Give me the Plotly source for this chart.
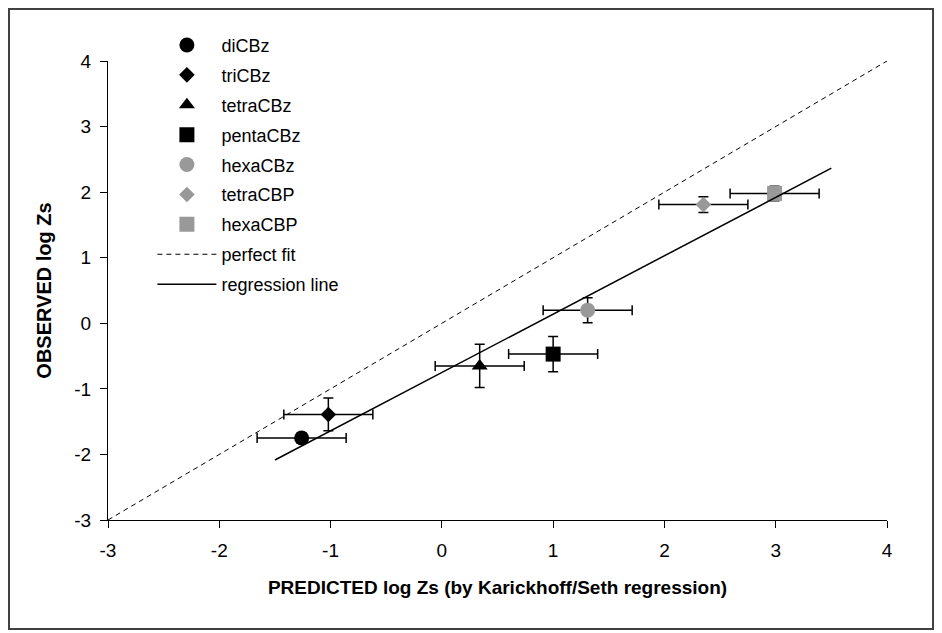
import plotly.graph_objects as go

# ---- data ----
names = ["diCBz", "triCBz", "tetraCBz", "pentaCBz", "hexaCBz", "tetraCBP", "hexaCBP"]
pred = [-1.26, -1.02, 0.34, 1.00, 1.31, 2.35, 2.99]
obs = [-1.75, -1.39, -0.65, -0.47, 0.20, 1.81, 1.98]
pred_err = [0.40, 0.40, 0.40, 0.40, 0.40, 0.40, 0.40]
obs_err = [0.08, 0.25, 0.33, 0.27, 0.19, 0.12, 0.11]
symbols = ["circle", "diamond", "triangle-up", "square", "circle", "diamond", "square"]
sizes = [15, 12, 14, 15, 15, 12, 15]
colors = ["black", "black", "black", "black", "#999999", "#999999", "#999999"]

fit_x = [-3, 4]
fit_y = [-3, 4]
reg_x = [-1.5, 3.5]
reg_y = [-2.085, 2.365]

ticks = [-3, -2, -1, 0, 1, 2, 3, 4]

FONT = "Liberation Sans, Arial, sans-serif"

fig = go.Figure()

for i, n in enumerate(names):
    fig.add_trace(go.Scatter(
        x=[pred[i]], y=[obs[i]], name=n, mode="markers",
        legendgroup=n,
        marker=dict(symbol=symbols[i], size=sizes[i], color=colors[i],
                    line=dict(width=0)),
        error_x=dict(type="data", array=[pred_err[i]], color="black",
                     thickness=1.5, width=5),
        error_y=dict(type="data", array=[obs_err[i]], color="black",
                     thickness=1.5, width=5),
    ))

fig.add_trace(go.Scatter(x=fit_x, y=fit_y, name="perfect fit", mode="lines",
                         legendgroup="fit",
                         line=dict(color="black", width=1, dash="5px,4px")))
fig.add_trace(go.Scatter(x=reg_x, y=reg_y, name="regression line", mode="lines",
                         legendgroup="reg",
                         line=dict(color="black", width=1.5)))

axis_common = dict(
    range=[-3, 4], tickvals=ticks, ticktext=[str(t) for t in ticks],
    showgrid=False, zeroline=False, showline=True, linecolor="black",
    linewidth=1.2, ticks="outside", ticklen=7, tickcolor="black", tickwidth=1.2,
    tickfont=dict(family=FONT, size=19, color="black"),
)

fig.update_layout(
    width=934, height=625,
    margin=dict(l=100, r=55, t=53, b=113),
    paper_bgcolor="white", plot_bgcolor="white",
    font=dict(family=FONT, color="black"),
    xaxis=dict(**axis_common, ticklabelstandoff=6,
               title=dict(text="<b>PREDICTED log Zs (by Karickhoff/Seth regression)</b>",
                          font=dict(family=FONT, size=19, color="black"), standoff=20)),
    yaxis=dict(**axis_common, ticklabelstandoff=5,
               title=dict(text="<b>OBSERVED log Zs</b>",
                          font=dict(family=FONT, size=20, color="black"), standoff=17)),
    legend=dict(x=0.057, y=1.0746, xanchor="left", yanchor="top",
                font=dict(family=FONT, size=18, color="black"),
                bgcolor="rgba(0,0,0,0)", itemwidth=59,
                traceorder="grouped", tracegroupgap=3.5),
    showlegend=True,
    shapes=[dict(type="rect", xref="paper", yref="paper",
                 x0=-0.1271, x1=1.0591, y0=-0.2375, y1=1.1133,
                 line=dict(color="#404040", width=2), layer="below")],
)

fig.write_html("out.html")
